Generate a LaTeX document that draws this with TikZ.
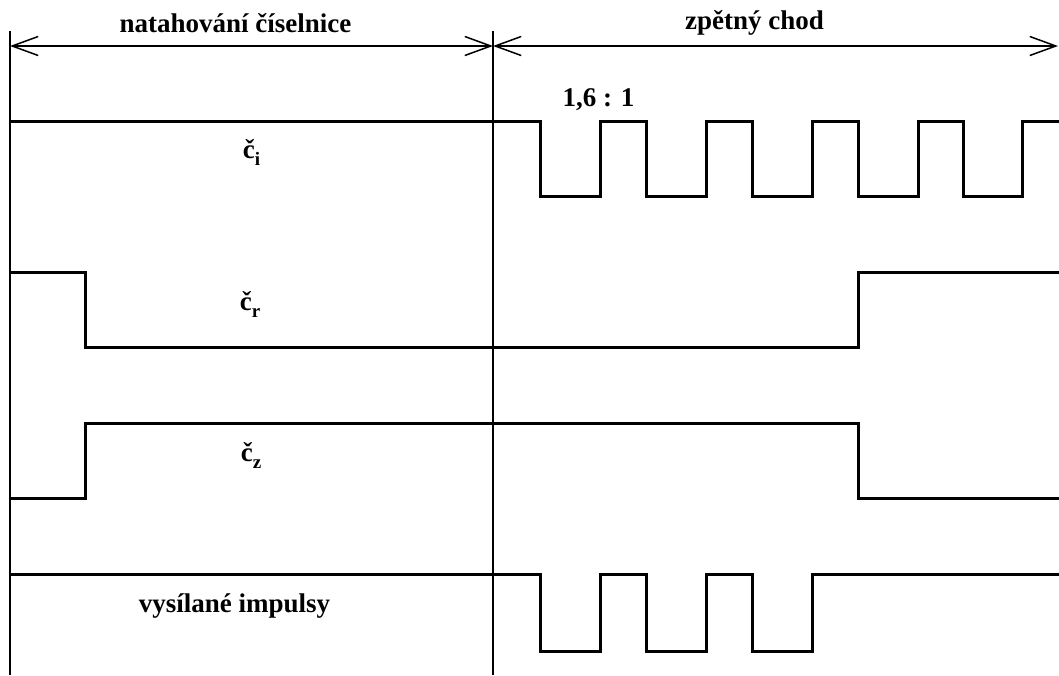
\documentclass[tikz,border=0pt]{standalone}
\usepackage{fontspec}
\setmainfont{Liberation Serif}
\usetikzlibrary{arrows.meta}
\newcommand\lsub[1]{\raisebox{-7pt}{\fontsize{19}{19}\selectfont #1}}
\begin{document}
\begin{tikzpicture}[x=1pt,y=-1pt,
  sig/.style={line width=3pt},
  thinline/.style={line width=1.3pt},
  dimline/.style={line width=1.5pt,
    {Straight Barb[length=26pt,width=19pt]}-{Straight Barb[length=26pt,width=19pt]}},
  lbl/.style={font=\fontsize{27}{32}\selectfont\bfseries, inner sep=0pt, anchor=base}]
\useasboundingbox (0,0) rectangle (1059,675);

% vertical marker lines
\coordinate (vt1) at (10,31);
\coordinate (vb1) at (10,675);
\coordinate (vt2) at (493,31);
\coordinate (vb2) at (493,675);
\draw[thinline] (vt1) -- (vb1);
\draw[thinline] (vt2) -- (vb2);

% dimension lines
\coordinate (dL) at (10,46);
\coordinate (dM) at (493,46);
\coordinate (dR) at (1058,46);
\draw[dimline] (dL) -- (dM);
\draw[dimline] (dM) -- (dR);

% signals
\draw[sig] (10,121) -| (540,196) -| (600,121) -| (646,196) -| (706,121)
  -| (752,196) -| (812,121) -| (858,196) -| (918,121) -| (963,196)
  -| (1022,121) -- (1059,121);
\draw[sig] (10,272) -| (85,347) -| (858,272) -- (1059,272);
\draw[sig] (10,498) -| (85,423) -| (858,498) -- (1059,498);
\draw[sig] (10,574) -| (540,651) -| (600,574) -| (646,651) -| (706,574)
  -| (752,651) -| (812,574) -- (1059,574);

% labels
\node[lbl] (t1) at (235.5,32) {natahování číselnice};
\node[lbl] (t2) at (754.5,29) {zpětný chod};
\node[lbl] (ratio) at (598.5,106) {1,6 : 1};
\node[lbl] (ci) at (251.5,158) {č\lsub{i}};
\node[lbl] (cr) at (250,310) {č\lsub{r}};
\node[lbl] (cz) at (251,461) {č\lsub{z}};
\node[lbl] (vi) at (234.5,612) {vysílané impulsy};
\end{tikzpicture}
\end{document}
